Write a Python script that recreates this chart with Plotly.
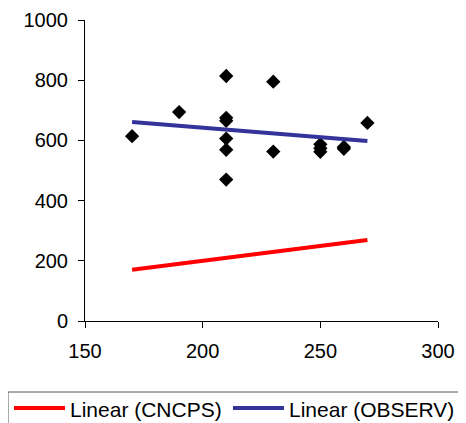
"""Scatter of observed values with linear trend lines for CNCPS and OBSERV."""

import plotly.graph_objects as go

# observed points
obs_x = [170, 190, 210, 210, 210, 210, 210, 210, 230, 230, 250, 250, 250, 260, 260, 270]
obs_y = [614, 694, 814, 675, 665, 606, 569, 470, 795, 563, 587, 574, 562, 578, 572, 658]

# trend line end points
trend_x = [170, 270]
cncps_trend = [170, 269]
observ_trend = [661, 598]

x_ticks = [150, 200, 250, 300]
y_ticks = [0, 200, 400, 600, 800, 1000]

legend_names = ["Linear (CNCPS)", "Linear (OBSERV)"]
legend_colors = ["#ff0000", "#333399"]

FONT = "Liberation Sans, Arial, sans-serif"
W, H = 466, 423
PAGE_PAD = 8  # default body margin of the html page


def fx(p):
    # window pixel -> paper fraction (margins are zero, so paper is the whole figure)
    return (p - PAGE_PAD) / W


def fy(p):
    return 1 - (p - PAGE_PAD) / H


fig = go.Figure()

fig.add_trace(
    go.Scatter(
        x=obs_x,
        y=obs_y,
        mode="markers",
        marker={"symbol": "diamond", "size": 11, "color": "black"},
        name="OBSERV",
    )
)
fig.add_trace(
    go.Scatter(
        x=trend_x,
        y=cncps_trend,
        mode="lines",
        line={"color": legend_colors[0], "width": 4},
        name=legend_names[0],
    )
)
fig.add_trace(
    go.Scatter(
        x=trend_x,
        y=observ_trend,
        mode="lines",
        line={"color": legend_colors[1], "width": 4},
        name=legend_names[1],
    )
)

axis_common = {
    "showgrid": False,
    "zeroline": False,
    "showline": True,
    "linecolor": "black",
    "linewidth": 1,
    "ticks": "outside",
    "ticklen": 6,
    "tickcolor": "black",
    "ticklabelstandoff": 6,
    "automargin": False,
    "tickfont": {"family": FONT, "size": 20, "color": "black"},
}

fig.update_xaxes(range=[150, 300], tickvals=x_ticks, domain=[fx(85), fx(438)], **axis_common)
fig.update_yaxes(range=[0, 1000], tickvals=y_ticks, domain=[fy(321), fy(20)], **axis_common)

# legend drawn by hand so it can run off the right edge like the original
shapes = [
    {
        "type": "rect",
        "xref": "paper",
        "yref": "paper",
        "x0": fx(8),
        "x1": fx(480),
        "y0": fy(392),
        "y1": fy(440),
        "line": {"color": "#555555", "width": 1},
        "layer": "above",
    }
]
annotations = []
for name, color, x0 in zip(legend_names, legend_colors, [14, 233]):
    shapes.append(
        {
            "type": "line",
            "xref": "paper",
            "yref": "paper",
            "x0": fx(x0),
            "x1": fx(x0 + 51),
            "y0": fy(408),
            "y1": fy(408),
            "line": {"color": color, "width": 4},
        }
    )
    annotations.append(
        {
            "text": name,
            "xref": "paper",
            "yref": "paper",
            "x": fx(x0 + 54),
            "y": fy(409),
            "xanchor": "left",
            "yanchor": "middle",
            "showarrow": False,
            "font": {"family": FONT, "size": 21, "color": "black"},
        }
    )

fig.update_layout(
    width=W,
    height=H,
    margin={"l": 0, "r": 0, "t": 0, "b": 0},
    paper_bgcolor="white",
    plot_bgcolor="white",
    font={"family": FONT, "size": 20, "color": "black"},
    showlegend=False,
    shapes=shapes,
    annotations=annotations,
)

fig.write_html("out.html")
